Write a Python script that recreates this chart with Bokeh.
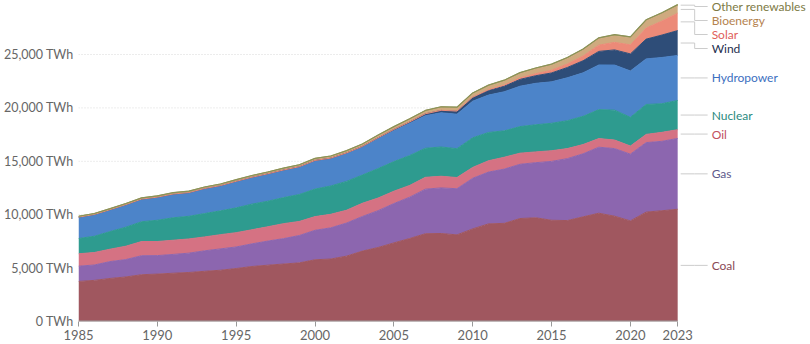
from bokeh.plotting import figure
from bokeh.models import Range1d, FixedTicker, ColumnDataSource
from bokeh.embed import file_html
from bokeh.resources import INLINE
from bokeh.core.properties import value

years = list(range(1985, 2024))

coal = [3750, 3850, 4030, 4170, 4380, 4440, 4520, 4590, 4700, 4800,
        4960, 5150, 5270, 5380, 5490, 5780, 5850, 6120, 6590, 6930,
        7360, 7770, 8220, 8240, 8110, 8670, 9140, 9190, 9640, 9710,
        9480, 9450, 9800, 10140, 9860, 9420, 10240, 10370, 10510]
gas = [1430, 1440, 1580, 1630, 1780, 1730, 1760, 1810, 1920, 2000,
       2020, 2120, 2260, 2380, 2560, 2760, 2920, 3100, 3240, 3450,
       3680, 3870, 4170, 4270, 4320, 4740, 4850, 5080, 5080, 5160,
       5510, 5800, 5900, 6180, 6330, 6250, 6510, 6500, 6630]
oil = [1160, 1170, 1160, 1250, 1330, 1320, 1330, 1330, 1300, 1330,
       1340, 1320, 1340, 1400, 1320, 1280, 1270, 1200, 1240, 1180,
       1160, 1100, 1110, 1090, 1050, 1020, 1060, 1110, 1040, 1010,
       1000, 940, 870, 810, 800, 760, 770, 840, 820]
nuclear = [1430, 1520, 1650, 1780, 1850, 1990, 2100, 2120, 2190, 2230,
           2320, 2400, 2390, 2440, 2520, 2580, 2650, 2700, 2640, 2760,
           2770, 2800, 2720, 2740, 2700, 2770, 2650, 2470, 2490, 2540,
           2570, 2610, 2640, 2710, 2800, 2690, 2800, 2680, 2740]
hydro = [2000, 2040, 2050, 2110, 2120, 2160, 2220, 2220, 2340, 2360,
         2480, 2510, 2560, 2570, 2580, 2650, 2570, 2610, 2620, 2800,
         2900, 3010, 3050, 3200, 3230, 3430, 3500, 3660, 3780, 3880,
         3880, 4020, 4070, 4180, 4220, 4340, 4270, 4330, 4210]
wind = [0, 0, 0, 1, 2, 4, 4, 5, 6, 7,
        8, 9, 12, 16, 21, 31, 38, 52, 63, 85,
        104, 133, 171, 221, 277, 342, 437, 523, 640, 712,
        831, 962, 1136, 1270, 1420, 1596, 1850, 2100, 2330]
solar = [0, 0, 0, 0, 0, 0, 0, 0, 0, 0,
         0, 0, 0, 1, 1, 1, 1, 1, 1, 2,
         4, 5, 8, 12, 20, 32, 64, 100, 139, 190,
         256, 329, 445, 585, 704, 846, 1040, 1310, 1630]
bioenergy = [55, 58, 62, 66, 72, 78, 82, 88, 94, 100,
             106, 112, 118, 124, 132, 140, 145, 158, 172, 190,
             210, 228, 250, 268, 290, 330, 360, 390, 420, 460,
             490, 520, 560, 600, 630, 660, 680, 690, 700]
other_renewables = [30, 33, 36, 38, 40, 42, 44, 45, 46, 47,
                    48, 50, 51, 52, 53, 54, 54, 55, 56, 58,
                    60, 61, 63, 65, 67, 69, 71, 73, 75, 77,
                    80, 83, 85, 88, 90, 92, 93, 95, 100]

series_names = ["Coal", "Gas", "Oil", "Nuclear", "Hydropower", "Wind",
                "Solar", "Bioenergy", "Other renewables"]
series_values = [coal, gas, oil, nuclear, hydro, wind, solar, bioenergy,
                 other_renewables]
fill_colors = ["#A0575F", "#8C66AF", "#D57283", "#2E9B8F", "#4C84C9",
               "#2E4D78", "#EC8A78", "#CFAA7F", "#A8A062"]
label_colors = ["#8A4A55", "#5E5A8C", "#C2505E", "#2B8A80", "#3C6FC0",
                "#1F2F4F", "#E0605A", "#B5834F", "#7D7A45"]

x_ticks = [1985, 1990, 1995, 2000, 2005, 2010, 2015, 2020, 2023]
y_ticks = [0, 5000, 10000, 15000, 20000, 25000]

# layout
FRAME_LEFT = 77
DATA_PX = 600
px_per_year = DATA_PX / (years[-1] - years[0])
frame_w = 810 - FRAME_LEFT
x_end = years[0] + frame_w / px_per_year
y_end = 30056
px_per_unit = 321 / y_end


def xpx(px):
    return years[0] + (px - FRAME_LEFT) / px_per_year


data = {"year": years}
for n, v in zip(series_names, series_values):
    data[n] = v
source = ColumnDataSource(data)

p = figure(width=810, height=344, output_backend="svg", toolbar_location=None,
           x_range=Range1d(years[0], x_end), y_range=Range1d(0, y_end),
           min_border_left=FRAME_LEFT, min_border_right=0,
           min_border_top=0, min_border_bottom=23)
p.outline_line_color = None
p.background_fill_color = "white"
p.xgrid.visible = False
p.ygrid.visible = False

# grid lines (only across data span)
p.segment(x0=[years[0]] * (len(y_ticks) - 1), x1=[years[-1]] * (len(y_ticks) - 1),
          y0=y_ticks[1:], y1=y_ticks[1:], line_color="#d9d9d9",
          line_dash="1 2", line_width=1)

p.varea_stack(stackers=series_names, x="year", color=fill_colors, source=source)

# top boundary lines of each area
cum = [0] * len(years)
tops = []
for v in series_values:
    cum = [a + b for a, b in zip(cum, v)]
    tops.append(cum)
for t, c in zip(tops, fill_colors):
    p.line(years, t, line_color=c, line_width=1, line_alpha=1)
p.line(years, tops[-1], line_color="#8a9258", line_width=1.2)

# x axis line
p.segment(x0=[years[0]], x1=[years[-1]], y0=[0], y1=[0], line_color="#999999",
          line_width=2)

# axes
p.xaxis.ticker = FixedTicker(ticks=x_ticks)
p.xaxis.axis_line_color = None
p.xaxis.major_tick_line_color = "#999999"
p.xaxis.major_tick_out = 5
p.xaxis.major_tick_in = 0
p.xaxis.minor_tick_line_color = None
p.xaxis.major_label_text_color = "#666666"
p.xaxis.major_label_text_font = "Lato"
p.xaxis.major_label_text_font_size = "13px"
p.xaxis.major_label_standoff = 3

p.yaxis.ticker = FixedTicker(ticks=y_ticks)
p.yaxis.major_label_overrides = {t: f"{t:,} TWh" for t in y_ticks}
p.yaxis.axis_line_color = None
p.yaxis.major_tick_line_color = None
p.yaxis.minor_tick_line_color = None
p.yaxis.major_tick_out = 0
p.yaxis.major_tick_in = 0
p.yaxis.major_label_text_color = "#666666"
p.yaxis.major_label_text_font = "Lato"
p.yaxis.major_label_text_font_size = "12.5px"
p.yaxis.major_label_standoff = 5

# end labels with leader lines
last_tops = [t[-1] for t in tops]
last_bottoms = [0] + last_tops[:-1]
mids = [(a + b) / 2 for a, b in zip(last_tops, last_bottoms)]
gap = 14 / px_per_unit
cap = (321 - 6) / px_per_unit
order = list(range(len(series_names)))[::-1]
label_y = [0] * len(series_names)
prev = None
for i in order:
    y = mids[i]
    if prev is None:
        y = min(y, cap)
    else:
        y = min(y, prev - gap)
    label_y[i] = y
    prev = y

x_start = xpx(680)
x_elbow = xpx(694)
x_stop = xpx(707)
xs, ys = [], []
for m, ly in zip(mids, label_y):
    xs.append([x_start, x_elbow, x_elbow, x_stop])
    ys.append([m, m, ly, ly])
p.multi_line(xs, ys, line_color="#cccccc", line_width=1)

p.text(x=[xpx(711)] * len(series_names), y=label_y, text=series_names,
       text_color=label_colors, text_font=value("Lato"), text_font_size="12px",
       text_baseline="middle", text_align="left")

open("out.html", "w").write(file_html(p, INLINE))
